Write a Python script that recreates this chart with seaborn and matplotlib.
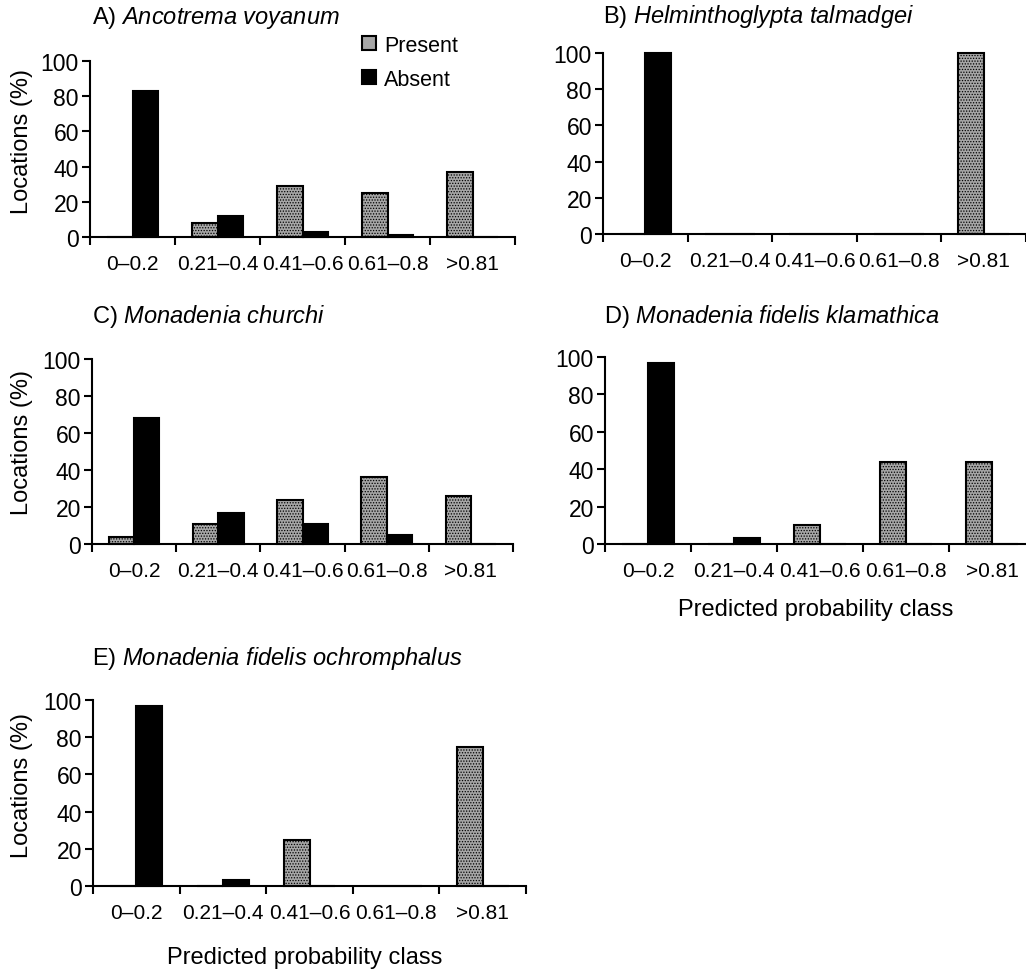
import matplotlib
matplotlib.use("Agg")
import matplotlib.pyplot as plt
import seaborn as sns
import pandas as pd

sns.set_style("white")
plt.rcParams['font.family'] = ['Liberation Sans', 'DejaVu Sans']
plt.rcParams['mathtext.fontset'] = 'custom'
plt.rcParams['mathtext.rm'] = 'Liberation Sans'
plt.rcParams['mathtext.it'] = 'Liberation Sans:italic'
plt.rcParams['hatch.linewidth'] = 0.6
plt.rcParams['text.color'] = 'black'
plt.rcParams['xtick.color'] = 'black'
plt.rcParams['ytick.color'] = 'black'
plt.rcParams['xtick.labelcolor'] = 'black'
plt.rcParams['ytick.labelcolor'] = 'black'

categories = ["0\u20130.2", "0.21\u20130.4", "0.41\u20130.6", "0.61\u20130.8", ">0.81"]
series = ["Present", "Absent"]

titles = ["A", "B", "C", "D", "E"]
species = ["Ancotrema voyanum", "Helminthoglypta talmadgei", "Monadenia churchi",
           "Monadenia fidelis klamathica", "Monadenia fidelis ochromphalus"]

present_A = [0, 8, 29, 25, 37]
absent_A = [83, 12, 3, 1, 0]
present_B = [0, 0, 0, 0, 100]
absent_B = [100, 0, 0, 0, 0]
present_C = [4, 11, 24, 36, 26]
absent_C = [68, 17, 11, 5, 0]
present_D = [0, 0, 10, 44, 44]
absent_D = [97, 3, 0, 0, 0]
present_E = [0, 0, 25, 0, 75]
absent_E = [97, 3, 0, 0, 0]

presents = [present_A, present_B, present_C, present_D, present_E]
absents = [absent_A, absent_B, absent_C, absent_D, absent_E]

W, H = 1026, 970
fig = plt.figure(figsize=(W / 100, H / 100), dpi=100)

# axes rects in pixels: left, right, y(100), y(0)
rects = [
    (90, 515, 62, 238),
    (603, 1026, 54, 235),
    (92, 513, 360, 545),
    (605, 1035, 358, 545),
    (93, 526, 701, 887),
]
title_pos = [(92, 18), (603, 17), (92, 317), (604, 317), (92, 658)]
ylabel_pos = {0: 141, 2: 443, 4: 786}
xlabel_pos = {3: (816, 610), 4: (305, 958)}

palette = {"Present": "#a6a6a6", "Absent": "#000000"}
fs = 16.5
xfs = 15

for i in range(5):
    l, r, yt, yb = rects[i]
    ax = fig.add_axes([l / W, 1 - yb / H, (r - l) / W, (yb - yt) / H])
    df = pd.DataFrame({
        "cls": categories * 2,
        "status": ["Present"] * 5 + ["Absent"] * 5,
        "val": presents[i] + absents[i],
    })
    sns.barplot(data=df, x="cls", y="val", hue="status", order=categories,
                hue_order=series, palette=palette, width=0.6,
                edgecolor="black", linewidth=1.5, saturation=1, ax=ax,
                legend=(i == 0))
    for bar in ax.containers[0]:
        bar.set_hatch("......")
        bar.set_clip_on(False)
    for bar in ax.containers[1]:
        bar.set_clip_on(False)
    ax.set_xlim(-0.5, 4.5)
    ax.set_ylim(0, 100)
    ax.set_yticks([0, 20, 40, 60, 80, 100])
    ax.set_xlabel("")
    ax.set_ylabel("")
    for s in ["top", "right"]:
        ax.spines[s].set_visible(False)
    for s in ["left", "bottom"]:
        ax.spines[s].set_linewidth(1.5)
        ax.spines[s].set_color("black")
    ax.tick_params(axis="x", which="major", length=0, pad=12, labelsize=xfs)
    ax.set_xticks([-0.5, 0.5, 1.5, 2.5, 3.5, 4.5], minor=True)
    ax.tick_params(axis="x", which="minor", length=6, width=1.5, direction="out",
                   bottom=True, color="black")
    ax.tick_params(axis="y", length=6, width=1.5, direction="out", pad=2,
                   labelsize=fs, left=True, color="black")
    ax.set_facecolor("white")

    tx, ty = title_pos[i]
    name = species[i].replace(" ", r"\ ")
    fig.text(tx / W, 1 - ty / H, f"{titles[i]}) $\\mathit{{{name}}}$",
             fontsize=fs + 0.5, ha="left", va="center")
    if i in ylabel_pos:
        fig.text(22 / W, 1 - ylabel_pos[i] / H, "Locations (%)", rotation=90,
                 fontsize=fs + 0.5, ha="center", va="center")
    if i in xlabel_pos:
        xx, yy = xlabel_pos[i]
        fig.text(xx / W, 1 - yy / H, "Predicted probability class",
                 fontsize=fs + 0.5, ha="center", va="center")
    if i == 0:
        handles, labels = ax.get_legend_handles_labels()
        ax.legend(handles, labels, loc="upper left", frameon=False,
                  bbox_to_anchor=(353 / W, 1 - 27 / H),
                  bbox_transform=fig.transFigure, fontsize=15.5,
                  handlelength=0.65, handleheight=0.65, handletextpad=0.4,
                  labelspacing=0.6, borderaxespad=0)

fig.savefig("out.png", dpi=100, facecolor="white")
